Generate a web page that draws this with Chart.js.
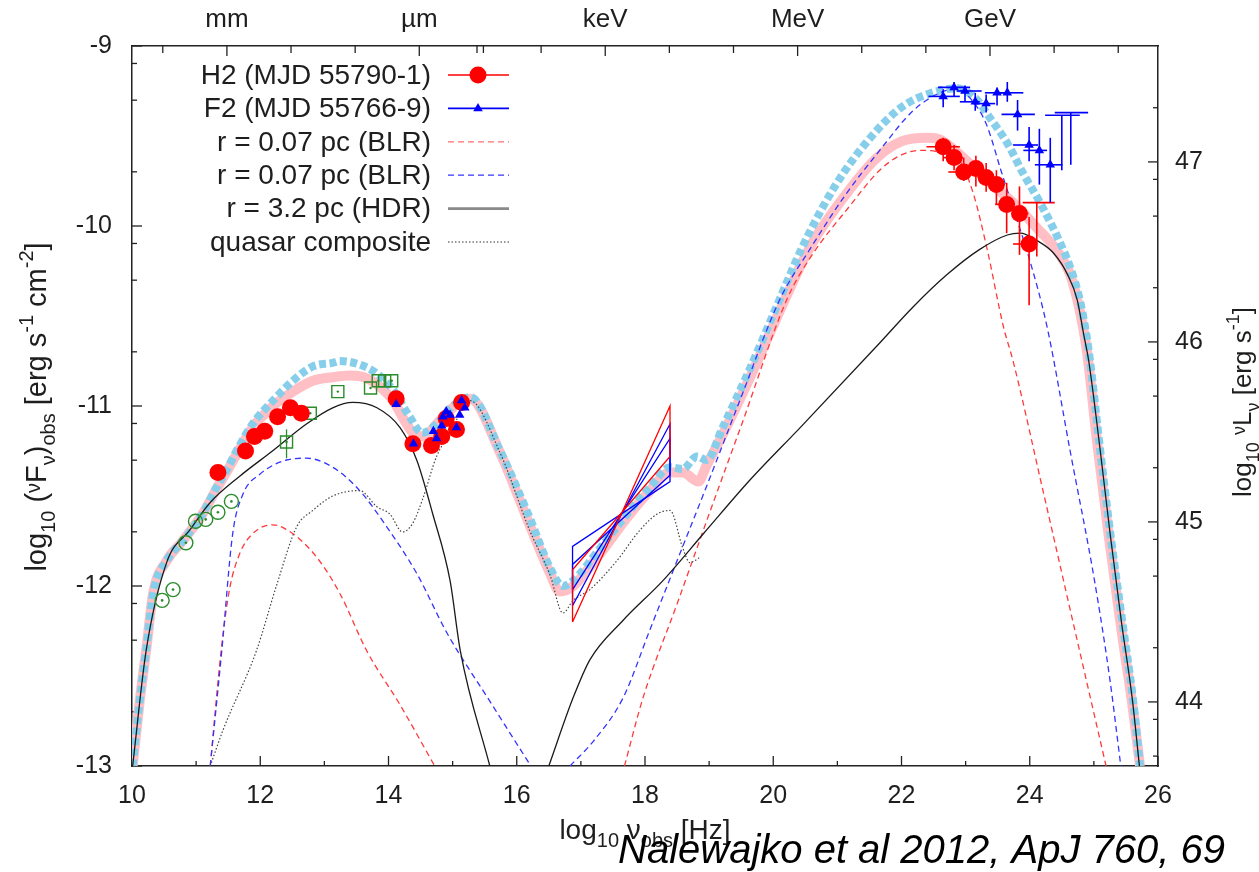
<!DOCTYPE html>
<html>
<head>
<meta charset="utf-8">
<title>SED</title>
<script src="https://cdn.jsdelivr.net/npm/chart.js@4.4.1/dist/chart.umd.min.js"></script>
<style>
  html, body { margin: 0; padding: 0; background: #fff; }
  #wrap { position: relative; width: 1259px; height: 872px; }
</style>
</head>
<body>
<div id="wrap"><canvas id="sed"></canvas></div>
<script>
// ---- model curves, log10 nu [Hz] vs log10 nuFnu ----
const h2ModelX = [10.01, 10.12, 10.22, 10.33, 10.54, 10.79, 11.10, 11.32, 11.47, 11.63, 11.88, 12.20, 12.51, 12.82, 13.13, 13.40, 13.62, 13.82, 14.07, 14.25, 14.38, 14.55, 14.75, 15.00, 15.16, 15.27, 15.74, 16.20, 16.52, 16.67, 16.88, 17.30, 17.72, 18.08, 18.39, 18.59, 18.83, 18.96, 19.21, 19.64, 20.18, 20.57, 21.10, 21.62, 22.00, 22.41, 22.60, 22.96, 23.38, 23.74, 24.11, 24.43, 24.63, 24.78, 24.89, 25.05, 25.22, 25.42, 25.60, 25.72];
const h2ModelY = [-13.0, -12.64, -12.36, -12.04, -11.86, -11.75, -11.60, -11.46, -11.37, -11.27, -11.12, -11.00, -10.92, -10.86, -10.84, -10.83, -10.84, -10.88, -10.97, -11.08, -11.15, -11.17, -11.10, -11.01, -10.97, -10.96, -11.26, -11.66, -11.93, -12.03, -12.00, -11.82, -11.62, -11.47, -11.37, -11.37, -11.42, -11.33, -11.16, -10.84, -10.41, -10.12, -9.84, -9.62, -9.53, -9.51, -9.52, -9.62, -9.76, -9.87, -10.01, -10.14, -10.27, -10.47, -10.69, -11.20, -11.69, -12.22, -12.66, -13.0];

const f2ModelX = [10.01, 10.12, 10.22, 10.33, 10.54, 10.79, 11.10, 11.32, 11.47, 11.63, 11.88, 12.20, 12.51, 12.82, 13.13, 13.24, 13.55, 13.82, 14.07, 14.33, 14.53, 14.75, 15.00, 15.27, 15.74, 16.20, 16.52, 16.72, 16.88, 17.30, 17.72, 18.08, 18.39, 18.59, 18.81, 18.96, 19.21, 19.64, 20.05, 20.45, 20.96, 21.49, 22.00, 22.47, 22.86, 23.18, 23.38, 23.65, 23.90, 24.16, 24.43, 24.63, 24.78, 24.89, 24.94, 25.10, 25.25, 25.44, 25.61, 25.72];
const f2ModelY = [-13.0, -12.64, -12.36, -12.04, -11.86, -11.75, -11.60, -11.45, -11.36, -11.25, -11.10, -10.97, -10.86, -10.78, -10.76, -10.75, -10.77, -10.82, -10.91, -11.06, -11.15, -11.10, -11.00, -10.95, -11.25, -11.62, -11.90, -12.00, -11.97, -11.79, -11.60, -11.45, -11.34, -11.35, -11.28, -11.30, -11.12, -10.79, -10.45, -10.12, -9.78, -9.52, -9.34, -9.26, -9.235, -9.30, -9.40, -9.54, -9.71, -9.87, -10.06, -10.23, -10.41, -10.62, -10.75, -11.25, -11.69, -12.19, -12.63, -13.0];

const blrRedSynX = [11.22, 11.39, 11.52, 11.68, 11.88, 12.19, 12.51, 12.88, 13.24, 13.66, 14.18, 14.72];
const blrRedSynY = [-13.0, -12.36, -12.02, -11.82, -11.71, -11.66, -11.71, -11.84, -12.04, -12.36, -12.66, -13.0];
const blrRedEcX = [17.68, 17.97, 18.50, 19.00, 19.50, 20.21, 20.57, 21.19, 21.66, 21.97, 22.29, 22.60, 22.91, 23.12, 23.33, 23.59, 23.74, 24.20, 24.70, 25.19];
const blrRedEcY = [-13.0, -12.62, -12.10, -11.60, -11.11, -10.41, -10.18, -9.89, -9.69, -9.61, -9.58, -9.59, -9.64, -9.82, -10.12, -10.56, -10.75, -11.46, -12.24, -13.0];

const blrBlueSynX = [11.22, 11.40, 11.57, 11.73, 11.99, 12.41, 12.72, 13.13, 13.55, 13.97, 14.44, 14.91, 15.58, 16.22];
const blrBlueSynY = [-13.0, -12.36, -11.71, -11.49, -11.38, -11.30, -11.29, -11.34, -11.47, -11.67, -11.93, -12.26, -12.64, -13.0];
const blrBlueEcX = [16.83, 17.20, 17.66, 18.08, 18.50, 19.00, 19.50, 20.10, 20.57, 21.12, 21.66, 22.18, 22.60, 22.85, 23.18, 23.34, 23.55, 23.74, 24.00, 24.27, 24.63, 25.01, 25.25, 25.42];
const blrBlueEcY = [-13.0, -12.86, -12.62, -12.24, -11.86, -11.41, -10.95, -10.41, -10.13, -9.83, -9.58, -9.36, -9.26, -9.24, -9.34, -9.45, -9.69, -9.90, -10.19, -10.56, -11.25, -11.97, -12.52, -13.0];

const hdrSynX = [10.01, 10.22, 10.54, 10.90, 11.21, 11.68, 12.19, 12.72, 13.13, 13.44, 13.82, 14.18, 14.44, 14.69, 14.96, 15.12, 15.58];
const hdrSynY = [-13.0, -12.36, -11.87, -11.69, -11.54, -11.39, -11.25, -11.10, -11.01, -10.98, -11.01, -11.12, -11.30, -11.60, -11.97, -12.36, -13.0];
const hdrEcX = [16.50, 16.88, 17.14, 17.66, 18.28, 18.91, 19.64, 20.42, 21.66, 22.18, 22.71, 23.22, 23.65, 23.85, 24.11, 24.37, 24.59, 24.74, 24.84, 24.92, 25.10, 25.25, 25.43, 25.60, 25.71];
const hdrEcY = [-13.0, -12.62, -12.41, -12.19, -11.97, -11.71, -11.41, -11.12, -10.65, -10.45, -10.27, -10.13, -10.05, -10.04, -10.08, -10.15, -10.27, -10.41, -10.60, -10.75, -11.25, -11.70, -12.20, -12.63, -13.0];

const quasarX = [11.22, 11.42, 11.94, 12.26, 12.57, 12.82, 13.13, 13.55, 13.82, 14.02, 14.22, 14.38, 14.53, 14.75, 14.96, 15.27, 15.74, 16.20, 16.52, 16.72, 16.88, 17.14, 17.56, 17.92, 18.19, 18.39, 18.59, 18.70, 18.86];
const quasarY = [-13.0, -12.80, -12.36, -11.99, -11.67, -11.58, -11.50, -11.47, -11.56, -11.60, -11.70, -11.65, -11.52, -11.28, -11.15, -10.97, -11.26, -11.69, -11.94, -12.15, -12.08, -12.02, -11.86, -11.69, -11.60, -11.58, -11.79, -11.87, -11.84];

// ---- X-ray bowties (closed outlines) ----
const bowX = [16.87, 18.39, 18.39, 16.87, 16.87];
const bowRedY = [-12.20, -11.00, -11.28, -11.91, -12.20];
const bowBlueAY = [-12.11, -11.10, -11.42, -11.78, -12.11];
const bowBlueBY = [-12.02, -11.18, -11.385, -11.88, -12.02];

// ---- H2 data (red) ----
const h2OptX = [11.34, 11.77, 11.91, 12.07, 12.27, 12.47, 12.64, 14.12, 14.38, 14.67, 14.83, 14.90, 15.06, 15.14];
const h2OptY = [-11.37, -11.25, -11.17, -11.14, -11.06, -11.01, -11.04, -10.96, -11.21, -11.22, -11.17, -11.07, -11.13, -10.98];
const h2GamX = [22.65, 22.82, 22.97, 23.16, 23.32, 23.48, 23.64, 23.84, 23.99];
const h2GamY = [-9.56, -9.62, -9.70, -9.68, -9.73, -9.77, -9.88, -9.93, -10.10];
const h2GamXLo = [22.39, 22.65, 22.73, 23.02, 23.19, 23.38, 23.46, 23.74, 23.74];
const h2GamXHi = [22.91, 22.96, 23.04, 23.25, 23.41, 23.61, 23.74, 23.98, 24.11];
const h2GamYLo = [-9.64, -9.69, -9.75, -9.78, -9.81, -9.88, -10.04, -10.16, -10.44];
const h2GamYHi = [-9.51, -9.55, -9.62, -9.61, -9.65, -9.69, -9.76, -9.78, -9.95];
const h2LimX = [24.11];
const h2LimXLo = [23.89];
const h2LimXHi = [24.39];
const h2LimTop = [-9.87];
const h2LimBot = [-10.17];

// ---- F2 data (blue) ----
const f2OptX = [14.12, 14.39, 14.70, 14.75, 14.83, 14.85, 14.90, 14.96, 15.06, 15.11, 15.14, 15.19];
const f2OptY = [-10.99, -11.21, -11.14, -11.18, -11.11, -11.06, -11.03, -11.05, -11.12, -11.05, -10.97, -11.01];
const f2GamX = [22.65, 22.82, 22.99, 23.15, 23.32, 23.49, 23.65, 23.81, 23.99, 24.15, 24.32];
const f2GamY = [-9.28, -9.23, -9.25, -9.31, -9.32, -9.26, -9.26, -9.38, -9.55, -9.58, -9.66];
const f2GamXLo = [22.42, 22.57, 22.86, 22.91, 23.12, 23.30, 23.46, 23.56, 23.74, 23.90, 24.08];
const f2GamXHi = [22.91, 23.07, 23.25, 23.22, 23.46, 23.64, 23.90, 24.08, 24.13, 24.27, 24.51];
const f2GamYLo = [-9.34, -9.28, -9.31, -9.36, -9.37, -9.33, -9.31, -9.47, -9.64, -9.77, -9.87];
const f2GamYHi = [-9.24, -9.20, -9.22, -9.26, -9.27, -9.23, -9.20, -9.30, -9.45, -9.46, -9.51];
const f2LimX = [24.50, 24.64];
const f2LimXLo = [24.24, 24.39];
const f2LimXHi = [24.78, 24.91];
const f2LimTop = [-9.385, -9.37];
const f2LimBot = [-9.69, -9.66];

// ---- archival radio / IR (green) ----
const radioX = [10.47, 10.64, 10.84, 10.99, 11.15, 11.34, 11.55];
const radioY = [-12.08, -12.02, -11.76, -11.64, -11.63, -11.59, -11.53];
const irX = [12.41, 12.78, 13.21, 13.72, 13.84, 13.94, 14.05];
const irY = [-11.20, -11.04, -10.92, -10.90, -10.86, -10.86, -10.86];
const irErrX = [12.41];
const irErrLo = [-11.29];
const irErrHi = [-11.13];

// ---- axes ----
const bottomTicks = [10, 11, 12, 13, 14, 15, 16, 17, 18, 19, 20, 21, 22, 23, 24, 25, 26];
const topLabelPos = [11.48, 14.48, 17.38, 20.38, 23.38];
const topLabels = ['mm', 'µm', 'keV', 'MeV', 'GeV'];
const topTicks = [10.48, 11.48, 12.48, 13.48, 14.48, 15.48, 15.38, 16.38, 17.38, 18.38, 19.38, 20.38, 21.38, 22.38, 23.38, 24.38, 25.38];
const leftMajor = [-13, -12, -11, -10, -9];
const leftMinor = [-12.699, -12.301, -12.097, -11.699, -11.301, -11.097, -10.699, -10.301, -10.097, -9.699, -9.301, -9.097];
const rightMin = 43.644;
const rightMax = 47.644;
const rightMajor = [44, 45, 46, 47];
const rightMinor = [43.699, 43.903, 44.301, 44.699, 44.903, 45.301, 45.699, 45.903, 46.301, 46.699, 46.903, 47.301];

const FONT = '"Liberation Sans", Arial, sans-serif';
const TXT = '#1e1e1e';
const RED = '#ff0000';
const BLUE = '#0000ff';
const GREEN = '#2a8c2a';
const RED_DASH = '#ff3a3a';
const BLUE_DASH = '#3434ff';

const pts = (xs, ys) => xs.map((x, i) => ({ x: x, y: ys[i] }));

function curve(label, xs, ys, color, width, dash, order) {
  return {
    label: label, data: pts(xs, ys), showLine: true,
    borderColor: color, borderWidth: width, borderDash: dash, borderCapStyle: 'butt',
    pointRadius: 0, pointHoverRadius: 0, fill: false,
    cubicInterpolationMode: 'monotone', clip: 0, order: order
  };
}

function outline(label, ys, color) {
  return {
    label: label, data: pts(bowX, ys), showLine: true,
    borderColor: color, borderWidth: 1.3, pointRadius: 0, pointHoverRadius: 0,
    tension: 0, fill: false, clip: 0, order: 3
  };
}

function markers(label, xs, ys, style, r, fillCol, lineCol, lw, order) {
  return {
    label: label, data: pts(xs, ys), showLine: false,
    pointStyle: style, pointRadius: r, pointHoverRadius: r,
    backgroundColor: fillCol, borderColor: lineCol, borderWidth: lw, order: order
  };
}

// ---- drawing helpers for the gnuplot look ----
function seg(ctx, x1, y1, x2, y2) {
  ctx.beginPath();
  ctx.moveTo(x1, y1);
  ctx.lineTo(x2, y2);
  ctx.stroke();
}

function drawTickMarks(chart) {
  const { ctx, chartArea: a, scales } = chart;
  ctx.save();
  ctx.strokeStyle = '#222';
  ctx.lineWidth = 1.3;
  bottomTicks.forEach(v => {
    const px = scales.x.getPixelForValue(v);
    seg(ctx, px, a.bottom, px, a.bottom - (v % 2 === 0 ? 10 : 5));
  });
  topTicks.forEach(v => {
    const px = scales.x2.getPixelForValue(v);
    seg(ctx, px, a.top, px, a.top + (topLabelPos.includes(v) ? 10 : 7));
  });
  leftMajor.forEach(v => { const py = scales.y.getPixelForValue(v); seg(ctx, a.left, py, a.left + 10, py); });
  leftMinor.forEach(v => { const py = scales.y.getPixelForValue(v); seg(ctx, a.left, py, a.left + 5, py); });
  rightMajor.forEach(v => { const py = scales.y2.getPixelForValue(v); seg(ctx, a.right, py, a.right - 10, py); });
  rightMinor.forEach(v => { const py = scales.y2.getPixelForValue(v); seg(ctx, a.right, py, a.right - 5, py); });
  ctx.restore();
}

function drawErrorBars(chart) {
  const { ctx, scales: { x, y } } = chart;
  ctx.save();
  ctx.lineWidth = 1.6;
  const cross = (col, xs, ys, xlo, xhi, ylo, yhi) => {
    ctx.strokeStyle = col;
    xs.forEach((v, i) => {
      const px = x.getPixelForValue(v);
      const py = y.getPixelForValue(ys[i]);
      seg(ctx, x.getPixelForValue(xlo[i]), py, x.getPixelForValue(xhi[i]), py);
      seg(ctx, px, y.getPixelForValue(ylo[i]), px, y.getPixelForValue(yhi[i]));
    });
  };
  const limits = (col, xs, xlo, xhi, top, bot) => {
    ctx.strokeStyle = col;
    xs.forEach((v, i) => {
      const px = x.getPixelForValue(v);
      const pt = y.getPixelForValue(top[i]);
      seg(ctx, x.getPixelForValue(xlo[i]), pt, x.getPixelForValue(xhi[i]), pt);
      seg(ctx, px, pt, px, y.getPixelForValue(bot[i]));
    });
  };
  cross(RED, h2GamX, h2GamY, h2GamXLo, h2GamXHi, h2GamYLo, h2GamYHi);
  limits(RED, h2LimX, h2LimXLo, h2LimXHi, h2LimTop, h2LimBot);
  cross(BLUE, f2GamX, f2GamY, f2GamXLo, f2GamXHi, f2GamYLo, f2GamYHi);
  limits(BLUE, f2LimX, f2LimXLo, f2LimXHi, f2LimTop, f2LimBot);
  ctx.strokeStyle = GREEN;
  ctx.lineWidth = 1.3;
  irErrX.forEach((v, i) => {
    const px = x.getPixelForValue(v);
    seg(ctx, px, y.getPixelForValue(irErrLo[i]), px, y.getPixelForValue(irErrHi[i]));
  });
  ctx.restore();
}

const legendRows = [
  { text: 'H2 (MJD 55790-1)', color: RED, width: 1.6, dash: [], mark: 'circle', r: 8.5 },
  { text: 'F2 (MJD 55766-9)', color: BLUE, width: 1.6, dash: [], mark: 'triangle', r: 5.5 },
  { text: 'r = 0.07 pc (BLR)', color: '#ff7070', width: 1.3, dash: [6, 4] },
  { text: 'r = 0.07 pc (BLR)', color: BLUE_DASH, width: 1.3, dash: [6, 4] },
  { text: 'r = 3.2 pc (HDR)', color: '#8a8a8a', width: 2.6, dash: [] },
  { text: 'quasar composite', color: '#777', width: 1.3, dash: [1.5, 2] }
];

function drawLegend(chart) {
  const ctx = chart.ctx;
  ctx.save();
  ctx.font = '28px ' + FONT;
  ctx.textAlign = 'right';
  ctx.textBaseline = 'middle';
  legendRows.forEach((row, i) => {
    const yy = 75 + 33.4 * i;
    ctx.fillStyle = TXT;
    ctx.fillText(row.text, 431, yy + 1);
    ctx.strokeStyle = row.color;
    ctx.lineWidth = row.width;
    ctx.setLineDash(row.dash);
    seg(ctx, 448, yy, 509, yy);
    ctx.setLineDash([]);
    if (row.mark) {
      ctx.fillStyle = row.color;
      Chart.helpers.drawPoint(ctx, { pointStyle: row.mark, radius: row.r, rotation: 0, borderWidth: 0 }, 478, yy);
    }
  });
  ctx.restore();
}

function richText(ctx, parts, cx, cy, angle, size) {
  const small = Math.round(size * 0.7);
  ctx.save();
  ctx.translate(cx, cy);
  ctx.rotate(angle);
  ctx.textAlign = 'left';
  ctx.textBaseline = 'alphabetic';
  ctx.fillStyle = TXT;
  const fontOf = k => (k === 'n' ? size : small) + 'px ' + FONT;
  const widths = parts.map(p => { ctx.font = fontOf(p[1]); return ctx.measureText(p[0]).width; });
  let x = -widths.reduce((s, w) => s + w, 0) / 2;
  parts.forEach((p, i) => {
    ctx.font = fontOf(p[1]);
    let dy = 0;
    if (p[1] === 'sub') dy = size * 0.3;
    if (p[1] === 'sup') dy = -size * 0.45;
    if (p[1] === 'up') dy = -size * 0.22;
    ctx.fillText(p[0], x, dy);
    x += widths[i];
  });
  ctx.restore();
}

function drawTitles(chart) {
  const ctx = chart.ctx;
  richText(ctx, [['log', 'n'], ['10', 'sub'], [' (', 'n'], ['ν', 'up'], ['F', 'n'], ['ν', 'sub'], [')', 'n'], ['obs', 'sub'],
    [' [erg s', 'n'], ['-1', 'sup'], [' cm', 'n'], ['-2', 'sup'], [']', 'n']], 46, 407, -Math.PI / 2, 29);
  richText(ctx, [['log', 'n'], ['10', 'sub'], [' ', 'n'], ['ν', 'up'], ['L', 'n'], ['ν', 'sub'],
    [' [erg s', 'n'], ['-1', 'sup'], [']', 'n']], 1251, 402, -Math.PI / 2, 26);
  richText(ctx, [['log', 'n'], ['10', 'sub'], [' ν', 'n'], ['obs', 'sub'], [' [Hz]', 'n']], 645, 839, 0, 28);
  ctx.save();
  ctx.font = 'italic 40px ' + FONT;
  ctx.fillStyle = '#000';
  ctx.textAlign = 'left';
  ctx.textBaseline = 'alphabetic';
  ctx.fillText('Nalewajko et al 2012, ApJ 760, 69', 618, 863);
  ctx.restore();
}

const gnuplotLook = {
  id: 'gnuplotLook',
  beforeDatasetsDraw(chart) { drawTickMarks(chart); },
  afterDatasetsDraw(chart) { drawErrorBars(chart); },
  afterDraw(chart) { drawLegend(chart); drawTitles(chart); }
};

const tickFont = { family: FONT, size: 25 };
const noGrid = { display: false, drawTicks: false };
const frame = { display: true, color: '#222', width: 1.5 };

new Chart(document.getElementById('sed'), {
  type: 'scatter',
  data: {
    datasets: [
      curve('H2 model', h2ModelX, h2ModelY, '#ffbfc5', 10, [], 20),
      curve('F2 model', f2ModelX, f2ModelY, '#87ceeb', 8, [7, 3.5], 19),
      curve('BLR H2 syn', blrRedSynX, blrRedSynY, RED_DASH, 1.3, [6, 4], 15),
      curve('BLR H2 EC', blrRedEcX, blrRedEcY, RED_DASH, 1.3, [6, 4], 15),
      curve('BLR F2 syn', blrBlueSynX, blrBlueSynY, BLUE_DASH, 1.3, [6, 4], 14),
      curve('BLR F2 EC', blrBlueEcX, blrBlueEcY, BLUE_DASH, 1.3, [6, 4], 14),
      curve('HDR syn', hdrSynX, hdrSynY, '#1a1a1a', 1.3, [], 13),
      curve('HDR EC', hdrEcX, hdrEcY, '#1a1a1a', 1.3, [], 13),
      curve('quasar composite', quasarX, quasarY, '#444', 1.2, [1.5, 2], 12),
      outline('X-ray H2', bowRedY, RED),
      outline('X-ray F2 a', bowBlueAY, BLUE),
      outline('X-ray F2 b', bowBlueBY, BLUE),
      markers('radio', radioX, radioY, 'circle', 7, 'rgba(0,0,0,0)', GREEN, 1.4, 2),
      markers('radio centre', radioX, radioY, 'circle', 1.3, GREEN, GREEN, 0, 2),
      markers('IR', irX, irY, 'rect', 8.5, 'rgba(0,0,0,0)', GREEN, 1.4, 2),
      markers('IR centre', irX, irY, 'circle', 1.2, GREEN, GREEN, 0, 2),
      markers('H2', h2OptX.concat(h2GamX), h2OptY.concat(h2GamY), 'circle', 8.5, RED, RED, 0, 1),
      markers('F2', f2OptX.concat(f2GamX), f2OptY.concat(f2GamY), 'triangle', 5.5, BLUE, BLUE, 0, 0)
    ]
  },
  options: {
    responsive: true,
    maintainAspectRatio: false,
    animation: false,
    events: [],
    layout: { padding: 0 },
    plugins: { legend: { display: false }, tooltip: { enabled: false } },
    scales: {
      x: {
        type: 'linear', position: 'bottom', min: 10, max: 26, z: 1,
        afterFit: s => { s.height = 106; },
        afterBuildTicks: s => { s.ticks = bottomTicks.map(v => ({ value: v })); },
        grid: noGrid, border: frame,
        ticks: { autoSkip: false, maxRotation: 0, minRotation: 0, padding: 15, color: TXT, font: tickFont,
          callback: v => (Math.round(v) % 2 === 0 ? String(v) : '') }
      },
      x2: {
        type: 'linear', position: 'top', min: 10, max: 26, z: 1,
        afterFit: s => { s.height = 46; },
        afterBuildTicks: s => { s.ticks = topLabelPos.map(v => ({ value: v })); },
        grid: noGrid, border: frame,
        ticks: { autoSkip: false, maxRotation: 0, minRotation: 0, padding: 11, color: TXT,
          font: { family: FONT, size: 26 }, callback: (v, i) => topLabels[i] }
      },
      y: {
        type: 'linear', position: 'left', min: -13, max: -9, z: 1,
        afterFit: s => { s.width = 132; },
        afterBuildTicks: s => { s.ticks = leftMajor.map(v => ({ value: v })); },
        grid: noGrid, border: frame,
        ticks: { padding: 20, color: TXT, font: tickFont, callback: v => String(v) }
      },
      y2: {
        type: 'linear', position: 'right', min: rightMin, max: rightMax, z: 1,
        afterFit: s => { s.width = 101; },
        afterBuildTicks: s => { s.ticks = rightMajor.map(v => ({ value: v })); },
        grid: noGrid, border: frame,
        ticks: { padding: 17, color: TXT, font: tickFont, callback: v => String(v) }
      }
    }
  },
  plugins: [gnuplotLook]
});
</script>
</body>
</html>
